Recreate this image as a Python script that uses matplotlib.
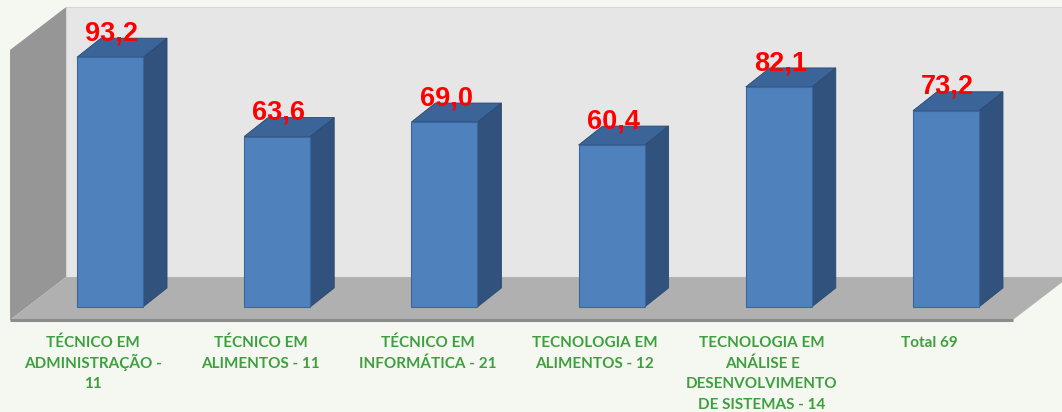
import matplotlib
matplotlib.use('Agg')
import matplotlib.pyplot as plt
from matplotlib.patches import Polygon

# data
categories = ['TÉCNICO EM\nADMINISTRAÇÃO -\n11', 'TÉCNICO EM\nALIMENTOS - 11', 'TÉCNICO EM\nINFORMÁTICA - 21',
              'TECNOLOGIA EM\nALIMENTOS - 12', 'TECNOLOGIA EM\nANÁLISE E\nDESENVOLVIMENTO\nDE SISTEMAS - 14',
              'Total 69']
values = [93.2, 63.6, 69.0, 60.4, 82.1, 73.2]
value_labels = ['93,2', '63,6', '69,0', '60,4', '82,1', '73,2']

fig = plt.figure(figsize=(10.62, 4.12), dpi=100)
fig.patch.set_facecolor('#f4f8f1')
ax = fig.add_axes([0, 0, 1, 1])
ax.set_xlim(-0.658, 5.694)
ax.set_ylim(-39.2, 114.55)
ax.axis('off')

# 3d look parameters (data units)
bar_w = 0.395
bdx, bdy = 0.1435, 7.1      # bar depth offset
wdx, wdy = 0.335, 16.0      # wall / floor depth
floor_front = -4.85
floor_back = floor_front + wdy
wall_x = -0.598
wall_top = 111.9
right_x = 5.40
label_y = -15.1             # baseline of first category line
line_step = 7.6

# back wall
ax.add_patch(Polygon([(wall_x + wdx, floor_back), (wall_x + wdx, wall_top), (right_x + 1, wall_top),
                      (right_x + 1, floor_back)], closed=True, fc='#e6e6e6', ec='#d8d8d8', lw=0.8, zorder=1))
# left wall
ax.add_patch(Polygon([(wall_x, floor_front), (wall_x, wall_top - wdy), (wall_x + wdx, wall_top),
                      (wall_x + wdx, floor_back)], closed=True, fc='#969696', ec='none', zorder=2))
# floor
ax.add_patch(Polygon([(wall_x, floor_front), (wall_x + wdx, floor_back), (right_x + wdx, floor_back),
                      (right_x, floor_front)], closed=True, fc='#b0b0b0', ec='none', zorder=2))
ax.plot([wall_x, right_x], [floor_front, floor_front], color='#8c8c8c', lw=2.2, zorder=3,
        solid_capstyle='butt')

for i, v in enumerate(values):
    x0 = i - bar_w / 2
    x1 = i + bar_w / 2
    # right side
    ax.add_patch(Polygon([(x1, 0), (x1 + bdx, bdy), (x1 + bdx, v + bdy), (x1, v)], closed=True,
                         fc='#30527c', ec='#2a4a72', lw=0.6, zorder=4))
    # top
    ax.add_patch(Polygon([(x0, v), (x0 + bdx, v + bdy), (x1 + bdx, v + bdy), (x1, v)], closed=True,
                         fc='#3b6499', ec='#2a4a72', lw=0.6, zorder=4))
    # front
    ax.bar(i, v, width=bar_w, color='#4f81bd', edgecolor='#3a66a0', linewidth=0.8, zorder=5)
    ax.text(i + 0.01, v + 6.3, value_labels[i], ha='center', va='baseline', color='#ff0000',
            fontsize=19.5, fontweight='bold', family='Liberation Sans', zorder=6)
    # category label, one line at a time so accents don't change the spacing
    for k, line in enumerate(categories[i].split('\n')):
        ax.text(i - 0.1, label_y - k * line_step, line, ha='center', va='baseline', color='#3f9f3f',
                fontsize=11, fontweight='bold', family='Lato', zorder=6)

fig.savefig('out.png', dpi=100, facecolor=fig.get_facecolor())
